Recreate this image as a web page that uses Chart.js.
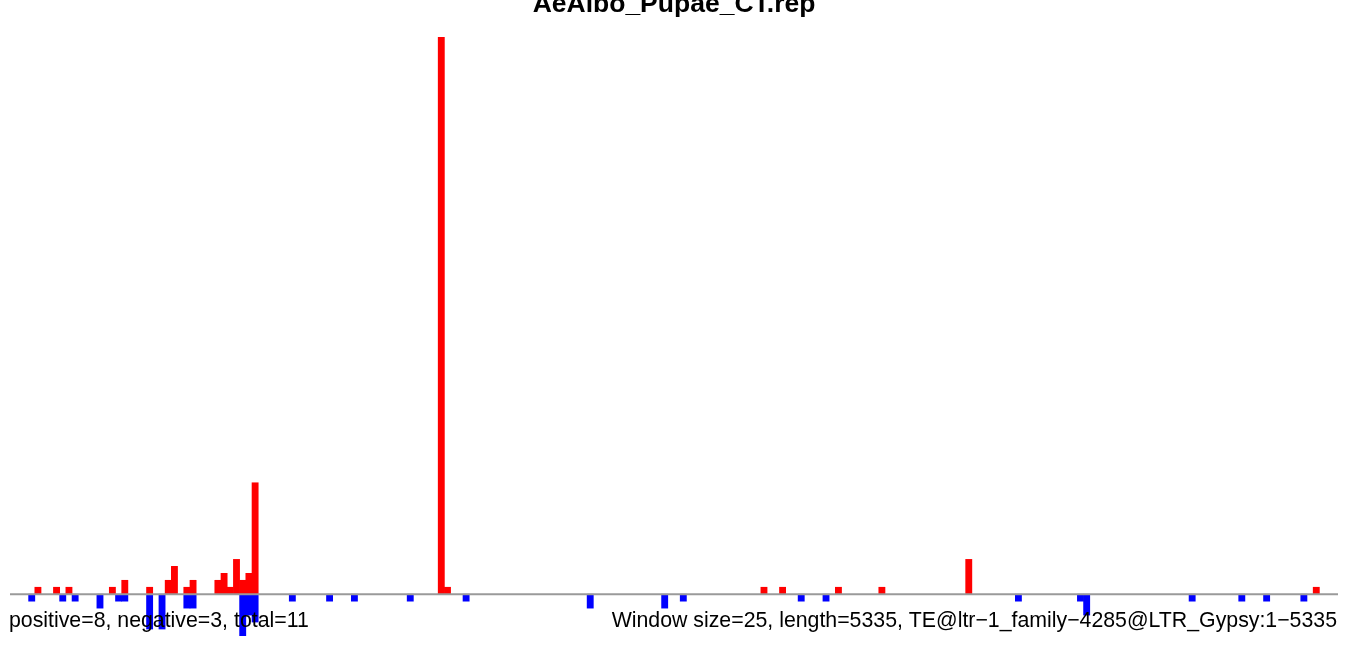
<!DOCTYPE html>
<html>
<head>
<meta charset="utf-8">
<title>AeAlbo_Pupae_CT.rep</title>
<script src="https://cdn.jsdelivr.net/npm/chart.js@4"></script>
<style>
    body { margin: 0; background: #fff; }
    #wrap { width: 1350px; height: 646px; position: relative; }
</style>
</head>
<body>
<div id="wrap"><canvas id="myChart"></canvas></div>
<script>
const windowSize = 25
const seqLength = 5335
const title = 'AeAlbo_Pupae_CT.rep'
const leftNote = 'positive=8, negative=3, total=11'
const rightNote = 'Window size=25, length=5335, TE@ltr\u22121_family\u22124285@LTR_Gypsy:1\u22125335'

// window index and count
const posWindows = [4, 7, 9, 16, 18, 22, 25, 26, 28, 29, 33, 34, 35, 36, 37, 38, 39, 69, 70, 121, 124, 133, 140, 154, 210]
const posCounts = [1, 1, 1, 1, 2, 1, 2, 4, 1, 2, 2, 3, 1, 5, 2, 3, 16, 80, 1, 1, 1, 1, 1, 5, 1]
const negWindows = [3, 8, 10, 14, 17, 18, 22, 24, 28, 29, 37, 38, 39, 45, 51, 55, 64, 73, 93, 105, 108, 127, 131, 162, 172, 173, 190, 198, 202, 208]
const negCounts = [-1, -1, -1, -2, -1, -1, -5, -5, -2, -2, -6, -3, -4, -1, -1, -1, -1, -1, -2, -2, -1, -1, -1, -1, -1, -3, -1, -1, -1, -1]

const yMin = -6
const yMax = 80

const nWindows = Math.ceil(seqLength / windowSize)
const labels = []
const posData = []
const negData = []
for (let i = 0; i < nWindows; i++) {
    labels.push(i * windowSize + 1)
    posData.push(null)
    negData.push(null)
}
for (let i = 0; i < posWindows.length; i++) {
    posData[posWindows[i]] = posCounts[i]
}
for (let i = 0; i < negWindows.length; i++) {
    negData[negWindows[i]] = negCounts[i]
}

const fontFamily = '"Liberation Sans", Arial, Helvetica, sans-serif'

// zero line, title and the two notes under the plot
const annotate = {
    id: 'annotate',
    afterDatasetsDraw(chart) {
        const ctx = chart.ctx
        const area = chart.chartArea
        const y0 = chart.scales.y.getPixelForValue(0)
        ctx.save()
        ctx.strokeStyle = '#9a9a9a'
        ctx.lineWidth = 2
        ctx.beginPath()
        ctx.moveTo(area.left, y0)
        ctx.lineTo(area.right, y0)
        ctx.stroke()

        ctx.fillStyle = '#000'
        ctx.textBaseline = 'alphabetic'
        ctx.font = 'bold 26.5px ' + fontFamily
        ctx.textAlign = 'center'
        ctx.fillText(title, (area.left + area.right) / 2, 12)

        ctx.font = '21.3px ' + fontFamily
        ctx.textAlign = 'left'
        ctx.fillText(leftNote, 9, 627)
        ctx.textAlign = 'right'
        ctx.fillText(rightNote, 1337, 627)
        ctx.restore()
    }
}

const ctx = document.getElementById('myChart').getContext('2d')
const myChart = new Chart(ctx, {
    type: 'bar',
    data: {
        labels: labels,
        datasets: [{
            label: 'positive',
            data: posData,
            backgroundColor: '#ff0000',
            borderWidth: 0
        }, {
            label: 'negative',
            data: negData,
            backgroundColor: '#0000ff',
            borderWidth: 0
        }]
    },
    options: {
        responsive: true,
        maintainAspectRatio: false,
        animation: false,
        layout: {
            padding: { top: 37, left: 10, right: 12, bottom: 10 }
        },
        datasets: {
            bar: {
                barPercentage: 1,
                categoryPercentage: 1
            }
        },
        plugins: {
            legend: { display: false },
            tooltip: { enabled: false },
            title: { display: false }
        },
        scales: {
            x: {
                display: false,
                stacked: true
            },
            y: {
                display: false,
                stacked: true,
                min: yMin,
                max: yMax
            }
        }
    },
    plugins: [annotate]
})
</script>
</body>
</html>
